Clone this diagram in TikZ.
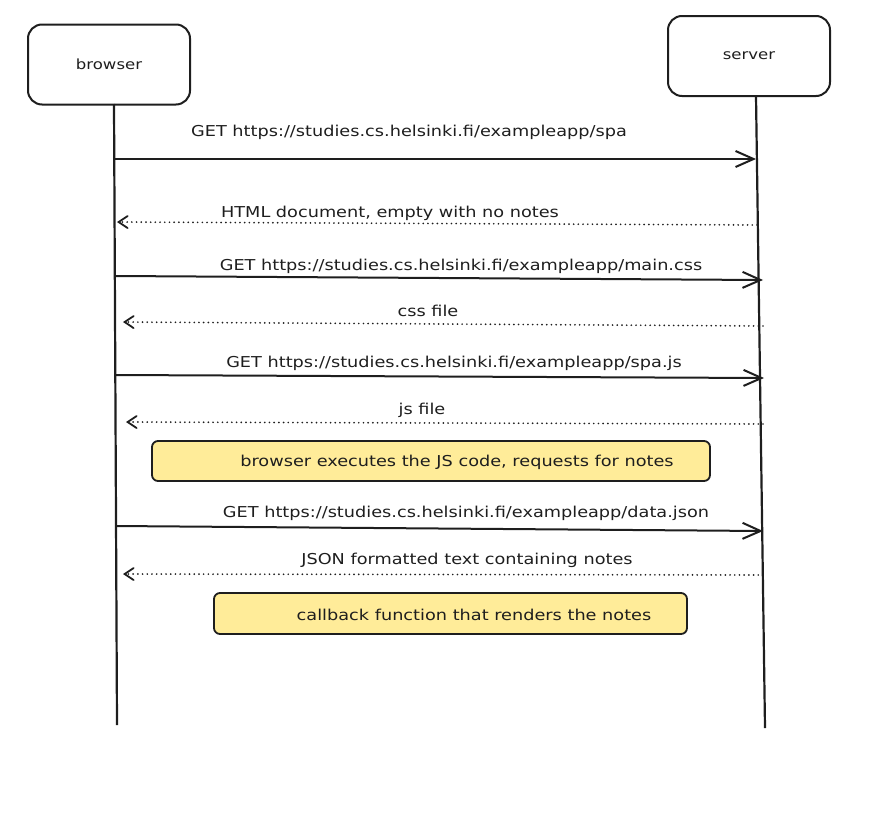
\documentclass[tikz,border=0pt]{standalone}
\usepackage{fontspec}
\setmainfont{DejaVu Sans}[FakeStretch=1.18]
\usetikzlibrary{arrows.meta}
\definecolor{ink}{HTML}{1E1E1E}
\definecolor{noteyellow}{HTML}{FFEC99}
\begin{document}
\begin{tikzpicture}[x=1pt,y=-1pt,
  actor/.style={draw=ink, line width=2pt, rounded corners=14pt, minimum width=162pt, minimum height=80pt, inner sep=0pt, font=\fontsize{14}{16}\selectfont, text=ink},
  lifeline/.style={draw=ink, line width=2.2pt},
  callarrow/.style={draw=ink, line width=2pt, -{Straight Barb[length=18pt,width=16pt]}},
  replyarrow/.style={draw=ink, line width=1.8pt, dash pattern=on 0.1pt off 4.6pt, line cap=round, -{Straight Barb[length=9pt,width=12pt,line cap=round]}},
  msg/.style={font=\fontsize{15}{17}\selectfont, text=ink, inner sep=0pt},
  notebox/.style={draw=ink, line width=1.8pt, fill=noteyellow, rounded corners=6pt, inner sep=0pt, font=\fontsize{15}{17}\selectfont, text=ink}
]
\useasboundingbox (0,0) rectangle (880,819);

% actors
\node[actor] (browser) at (109,64.5) {browser};
\node[actor] (server) at (749,56) {server};

% lifelines
\coordinate (b0) at (114,104);
\coordinate (b1) at (117,725);
\coordinate (s0) at (756,96);
\coordinate (s1) at (765,728);
\draw[lifeline] (b0) -- (b1);
\draw[lifeline] (s0) -- (s1);

% messages
\coordinate (m1a) at (113,159);  \coordinate (m1b) at (756,159);
\draw[callarrow] (m1a) -- (m1b);
\node[msg] (l1) at (409,132) {GET https://studies.cs.helsinki.fi/exampleapp/spa};

\coordinate (m2a) at (757,225);  \coordinate (m2b) at (117,222);
\draw[replyarrow] (m2a) -- (m2b);
\node[msg] (l2) at (390,213) {HTML document, empty with no notes};

\coordinate (m3a) at (116,276);  \coordinate (m3b) at (763,280);
\draw[callarrow] (m3a) -- (m3b);
\node[msg] (l3) at (461,266) {GET https://studies.cs.helsinki.fi/exampleapp/main.css};

\coordinate (m4a) at (763,326);  \coordinate (m4b) at (123,322);
\draw[replyarrow] (m4a) -- (m4b);
\node[msg] (l4) at (428,311) {css file};

\coordinate (m5a) at (116,375);  \coordinate (m5b) at (764,378);
\draw[callarrow] (m5a) -- (m5b);
\node[msg] (l5) at (454,363) {GET https://studies.cs.helsinki.fi/exampleapp/spa.js};

\coordinate (m6a) at (763,424);  \coordinate (m6b) at (126,422);
\draw[replyarrow] (m6a) -- (m6b);
\node[msg] (l6) at (422,410) {js file};

\node[notebox, minimum width=558pt, minimum height=40pt] (n1) at (431,461) {};
\node[msg] (n1t) at (457,462) {browser executes the JS code, requests for notes};

\coordinate (m8a) at (116,526);  \coordinate (m8b) at (763,531);
\draw[callarrow] (m8a) -- (m8b);
\node[msg] (l8) at (466,513) {GET https://studies.cs.helsinki.fi/exampleapp/data.json};

\coordinate (m9a) at (763,575);  \coordinate (m9b) at (123,574);
\draw[replyarrow] (m9a) -- (m9b);
\node[msg] (l9) at (467,560) {JSON formatted text containing notes};

\node[notebox, minimum width=473pt, minimum height=41pt] (n2) at (450.5,613.5) {};
\node[msg] (n2t) at (474,615) {callback function that renders the notes};
\end{tikzpicture}
\end{document}
